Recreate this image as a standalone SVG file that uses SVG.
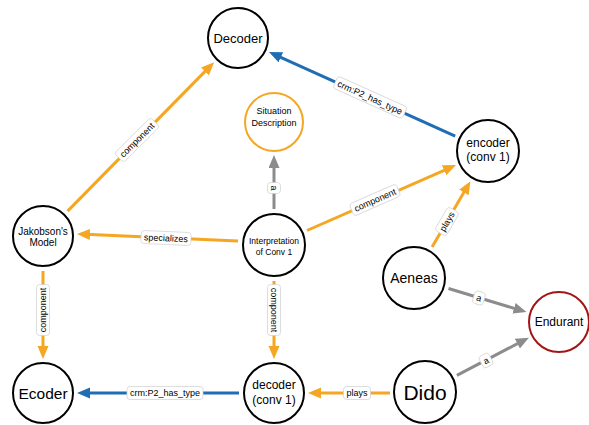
<svg xmlns="http://www.w3.org/2000/svg" width="589" height="425" viewBox="0 0 589 425">
<style>
.node circle{fill:#fff;stroke:#000;stroke-width:2}
.node text{font-family:"Liberation Sans",Arial,sans-serif;fill:#000;text-anchor:middle}
.e{stroke-width:3;fill:none}
.o{stroke:#f5a623}
.b{stroke:#1f6db5}
.g{stroke:#8c8c8c}
.lbl rect{fill:#fff;stroke:#cfcfcf;stroke-width:0.7}
.lbl text{font-family:"Liberation Sans",Arial,sans-serif;font-size:9px;fill:#000;text-anchor:middle}
</style>
<defs>
<marker id="ao" markerUnits="userSpaceOnUse" markerWidth="14" markerHeight="12" refX="5" refY="5.5" orient="auto"><path d="M0,0 L13,5.5 L0,11 z" fill="#f5a623"/></marker>
<marker id="ab" markerUnits="userSpaceOnUse" markerWidth="14" markerHeight="12" refX="5" refY="5.5" orient="auto"><path d="M0,0 L13,5.5 L0,11 z" fill="#1f6db5"/></marker>
<marker id="ag" markerUnits="userSpaceOnUse" markerWidth="14" markerHeight="12" refX="5" refY="5.5" orient="auto"><path d="M0,0 L13,5.5 L0,11 z" fill="#8c8c8c"/></marker>
</defs>
<rect width="589" height="425" fill="#fff"/>
<g id="connectors">
<g id="e1"><line class="e o" x1="67.6" y1="211.1" x2="208.5" y2="67.9" marker-end="url(#ao)"/>
<g class="lbl" transform="translate(137,140) rotate(-44.8)"><rect x="-25.5" y="-6.5" width="51" height="13" rx="3"/><text y="3.2">component</text></g></g>
<g id="e2"><line class="e b" x1="455.2" y1="136.2" x2="276.3" y2="55.3" marker-end="url(#ab)"/>
<g class="lbl" transform="translate(370,97.5) rotate(24.2)"><rect x="-38" y="-6.5" width="76" height="13" rx="3"/><text y="3.2">crm:P2_has_type</text></g></g>
<g id="e3"><line class="e g" x1="274" y1="209" x2="274" y2="163" marker-end="url(#ag)"/>
<g class="lbl" transform="translate(274,188) rotate(90)"><rect x="-5.5" y="-6.5" width="11" height="13" rx="3"/><text y="3.2">a</text></g></g>
<g id="e4"><line class="e o" x1="307" y1="230.5" x2="448.7" y2="168.3" marker-end="url(#ao)"/>
<g class="lbl" transform="translate(375,200) rotate(-23.7)"><rect x="-25.5" y="-6.5" width="51" height="13" rx="3"/><text y="3.2">component</text></g></g>
<g id="e5"><line class="e o" x1="238" y1="241" x2="85" y2="234.3" marker-end="url(#ao)"/>
<g class="lbl" transform="translate(166,238) rotate(2.5)"><rect x="-25" y="-6.5" width="50" height="13" rx="3"/><text y="3.2">specializes</text></g></g>
<g id="e6"><line class="e o" x1="43" y1="271" x2="43" y2="351" marker-end="url(#ao)"/>
<g class="lbl" transform="translate(43,310) rotate(-90)"><rect x="-25.5" y="-6.5" width="51" height="13" rx="3"/><text y="3.2">component</text></g></g>
<g id="e7"><line class="e o" x1="274" y1="281" x2="274" y2="351" marker-end="url(#ao)"/>
<g class="lbl" transform="translate(274,310) rotate(90)"><rect x="-25.5" y="-6.5" width="51" height="13" rx="3"/><text y="3.2">component</text></g></g>
<g id="e8"><line class="e b" x1="239" y1="393" x2="85" y2="393" marker-end="url(#ab)"/>
<g class="lbl" transform="translate(165,393)"><rect x="-38" y="-6.5" width="76" height="13" rx="3"/><text y="3.2">crm:P2_has_type</text></g></g>
<g id="e9"><line class="e o" x1="390" y1="393" x2="316" y2="393" marker-end="url(#ao)"/>
<g class="lbl" transform="translate(357,393)"><rect x="-13.5" y="-6.5" width="27" height="13" rx="3"/><text y="3.2">plays</text></g></g>
<g id="e10"><line class="e o" x1="432.1" y1="246.9" x2="466.4" y2="188.1" marker-end="url(#ao)"/>
<g class="lbl" transform="translate(447,221.5) rotate(-59.8)"><rect x="-13.5" y="-6.5" width="27" height="13" rx="3"/><text y="3.2">plays</text></g></g>
<g id="e11"><line class="e g" x1="448.5" y1="288.5" x2="518.8" y2="309.8" marker-end="url(#ag)"/>
<g class="lbl" transform="translate(479,298) rotate(16.9)"><rect x="-5.5" y="-6.5" width="11" height="13" rx="3"/><text y="3.2">a</text></g></g>
<g id="e12"><line class="e g" x1="456.9" y1="375.3" x2="521.8" y2="341.4" marker-end="url(#ag)"/>
<g class="lbl" transform="translate(486,360.5) rotate(-27.6)"><rect x="-5.5" y="-6.5" width="11" height="13" rx="3"/><text y="3.2">a</text></g></g>
</g>
<g id="n-decoder-top" class="node"><circle cx="238" cy="38" r="30"/><text x="238" y="42.5" font-size="13">Decoder</text></g>
<g id="n-situation" class="node"><circle cx="274" cy="122" r="29" style="stroke:#f5a623"/><text x="274" y="113.5" font-size="9">Situation</text><text x="274" y="125.5" font-size="9">Description</text></g>
<g id="n-encoder" class="node"><circle cx="488" cy="151" r="31"/><text x="488" y="147" font-size="12">encoder</text><text x="488" y="161" font-size="12">(conv 1)</text></g>
<g id="n-jakobson" class="node"><circle cx="43" cy="236" r="30"/><text x="43" y="234.5" font-size="10">Jakobson's</text><text x="43" y="246" font-size="10">Model</text></g>
<g id="n-interp" class="node"><circle cx="274" cy="245" r="31"/><text x="274" y="244" font-size="8.5">Interpretation</text><text x="274" y="255" font-size="8.5">of Conv 1</text></g>
<g id="n-aeneas" class="node"><circle cx="414" cy="278" r="31"/><text x="414" y="283" font-size="14">Aeneas</text></g>
<g id="n-endurant" class="node"><circle cx="559" cy="322" r="30" style="stroke:#a31515"/><text x="559" y="326" font-size="12">Endurant</text></g>
<g id="n-ecoder" class="node"><circle cx="43" cy="393" r="30"/><text x="43" y="398.5" font-size="15.5">Ecoder</text></g>
<g id="n-decoder-conv" class="node"><circle cx="274" cy="393" r="30"/><text x="274" y="389" font-size="12">decoder</text><text x="274" y="404" font-size="12">(conv 1)</text></g>
<g id="n-dido" class="node"><circle cx="425" cy="392" r="31"/><text x="425" y="399.5" font-size="21">Dido</text></g>
</svg>
